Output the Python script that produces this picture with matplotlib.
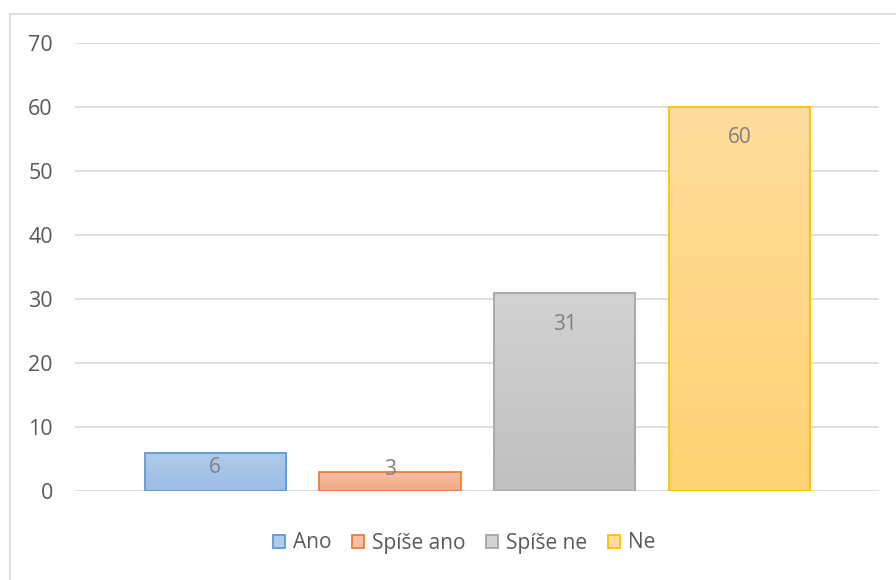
import numpy as np
import matplotlib.pyplot as plt
from matplotlib.patches import Rectangle, Patch
from matplotlib.colors import LinearSegmentedColormap

categories = ['Ano', 'Spíše ano', 'Spíše ne', 'Ne']
values = [6, 3, 31, 60]
edge_colors = ['#5b9bd5', '#ed7d31', '#a5a5a5', '#ffc000']
top_colors = ['#b1cbea', '#f6bfa7', '#d2d2d2', '#ffdc9c']
bottom_colors = ['#9bbce5', '#f3a984', '#c0c0c0', '#ffd272']
yticks = [0, 10, 20, 30, 40, 50, 60, 70]
# distance (px) of each data label centre below its bar top
label_drop = [14.5, -2.5, 31.5, 30.5]

plt.rcParams['font.family'] = ['Open Sans', 'DejaVu Sans']
text_color = '#595959'

W, H = 896, 580
fig = plt.figure(figsize=(W / 100, H / 100), dpi=100)
ax = fig.add_axes([75 / W, 1 - 491 / H, (879 - 75) / W, (491 - 43) / H])

# outer chart border
fig.patches.append(Rectangle((10 / W, -0.05), 1.05, 1 - 14 / H + 0.05, transform=fig.transFigure,
                             fill=False, edgecolor='#d9d9d9', linewidth=1.2))

x = np.arange(len(categories))
bars = ax.bar(x, values, width=0.81, color='none', edgecolor=edge_colors, linewidth=1.3, zorder=3)

for b, t, bo in zip(bars, top_colors, bottom_colors):
    cmap = LinearSegmentedColormap.from_list('g', [bo, t])
    grad = np.linspace(0, 1, 100).reshape(-1, 1)
    im = ax.imshow(grad, cmap=cmap, aspect='auto', origin='lower',
                   extent=[b.get_x(), b.get_x() + b.get_width(), 0, b.get_height()], zorder=2)
    im.set_clip_path(b)

for b, v, d in zip(bars, values, label_drop):
    ax.annotate(str(v), (b.get_x() + b.get_width() / 2, v), xytext=(0, -d * 0.72),
                textcoords='offset points', ha='center', va='center',
                fontsize=15, color='#7f7f7f', zorder=4)

ax.set_xlim(-0.803, 3.8)
ax.set_ylim(0, 70)
ax.set_yticks(yticks)
ax.set_xticks([])
ax.yaxis.grid(True, color='#d9d9d9', linewidth=1.2)
ax.set_axisbelow(True)
for s in ax.spines.values():
    s.set_visible(False)
ax.tick_params(axis='y', length=0, pad=16, labelsize=15.5, labelcolor=text_color)

handles = [Patch(facecolor=t, edgecolor=e, linewidth=1.3) for t, e in zip(top_colors, edge_colors)]
fig.legend(handles, categories, loc='center', bbox_to_anchor=(464 / W, 1 - 543 / H), ncol=4,
           frameon=False, fontsize=15, labelcolor=text_color, handlelength=0.58, handleheight=0.58,
           handletextpad=0.38, columnspacing=1.0)

fig.savefig('out.png', dpi=100)
